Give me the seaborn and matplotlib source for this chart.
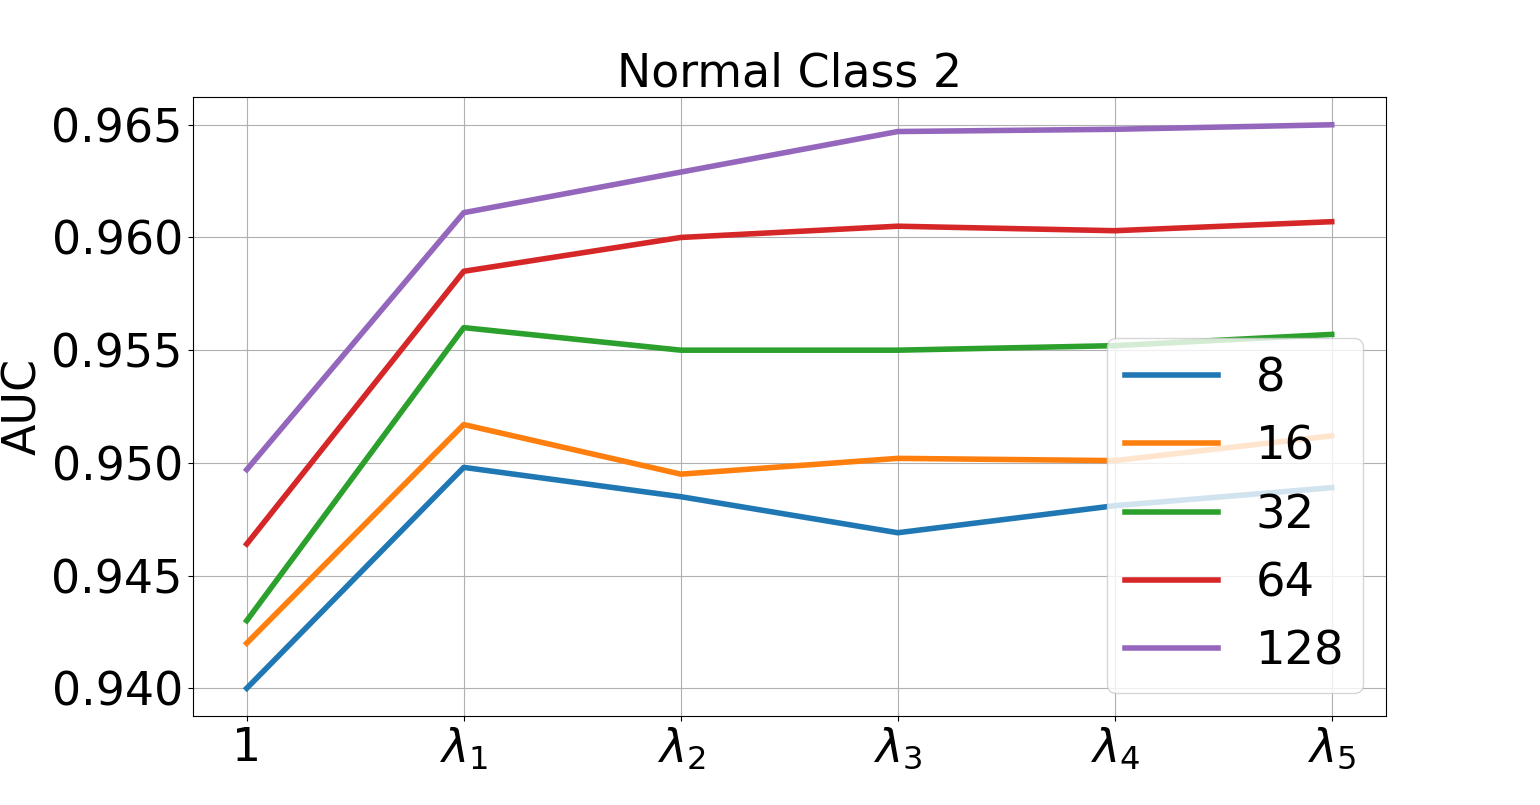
import pandas as pd
import seaborn as sns
import matplotlib
matplotlib.use('Agg')
import matplotlib.pyplot as plt

# x positions and tick labels
steps = [0, 1, 2, 3, 4, 5]
step_labels = ['1', r'$\lambda_1$', r'$\lambda_2$', r'$\lambda_3$', r'$\lambda_4$', r'$\lambda_5$']

# AUC per embedding size
auc_8 = [0.9400, 0.9498, 0.9485, 0.9469, 0.9481, 0.9489]
auc_16 = [0.9420, 0.9517, 0.9495, 0.9502, 0.9501, 0.9512]
auc_32 = [0.9430, 0.9560, 0.9550, 0.9550, 0.9552, 0.9557]
auc_64 = [0.9464, 0.9585, 0.9600, 0.9605, 0.9603, 0.9607]
auc_128 = [0.9497, 0.9611, 0.9629, 0.9647, 0.9648, 0.9650]

sizes = ['8', '16', '32', '64', '128']
series = [auc_8, auc_16, auc_32, auc_64, auc_128]

rows = []
for size, vals in zip(sizes, series):
    for s, v in zip(steps, vals):
        rows.append({'step': s, 'AUC': v, 'size': size})
df = pd.DataFrame(rows)

fig, ax = plt.subplots(figsize=(15.4, 8.05), dpi=100)
sns.lineplot(data=df, x='step', y='AUC', hue='size', hue_order=sizes,
             palette=sns.color_palette('tab10', 5), linewidth=4, ax=ax)

ax.set_xticks(steps)
ax.set_xticklabels(step_labels)
ax.tick_params(labelsize=33)
ax.set_title('Normal Class 2', fontsize=33)
ax.set_xlabel('')
ax.set_ylabel('AUC', fontsize=33)
ax.grid(True)

handles, labels = ax.get_legend_handles_labels()
ax.legend(handles, labels, fontsize=33.5, loc='lower right')

plt.savefig('out.png')
